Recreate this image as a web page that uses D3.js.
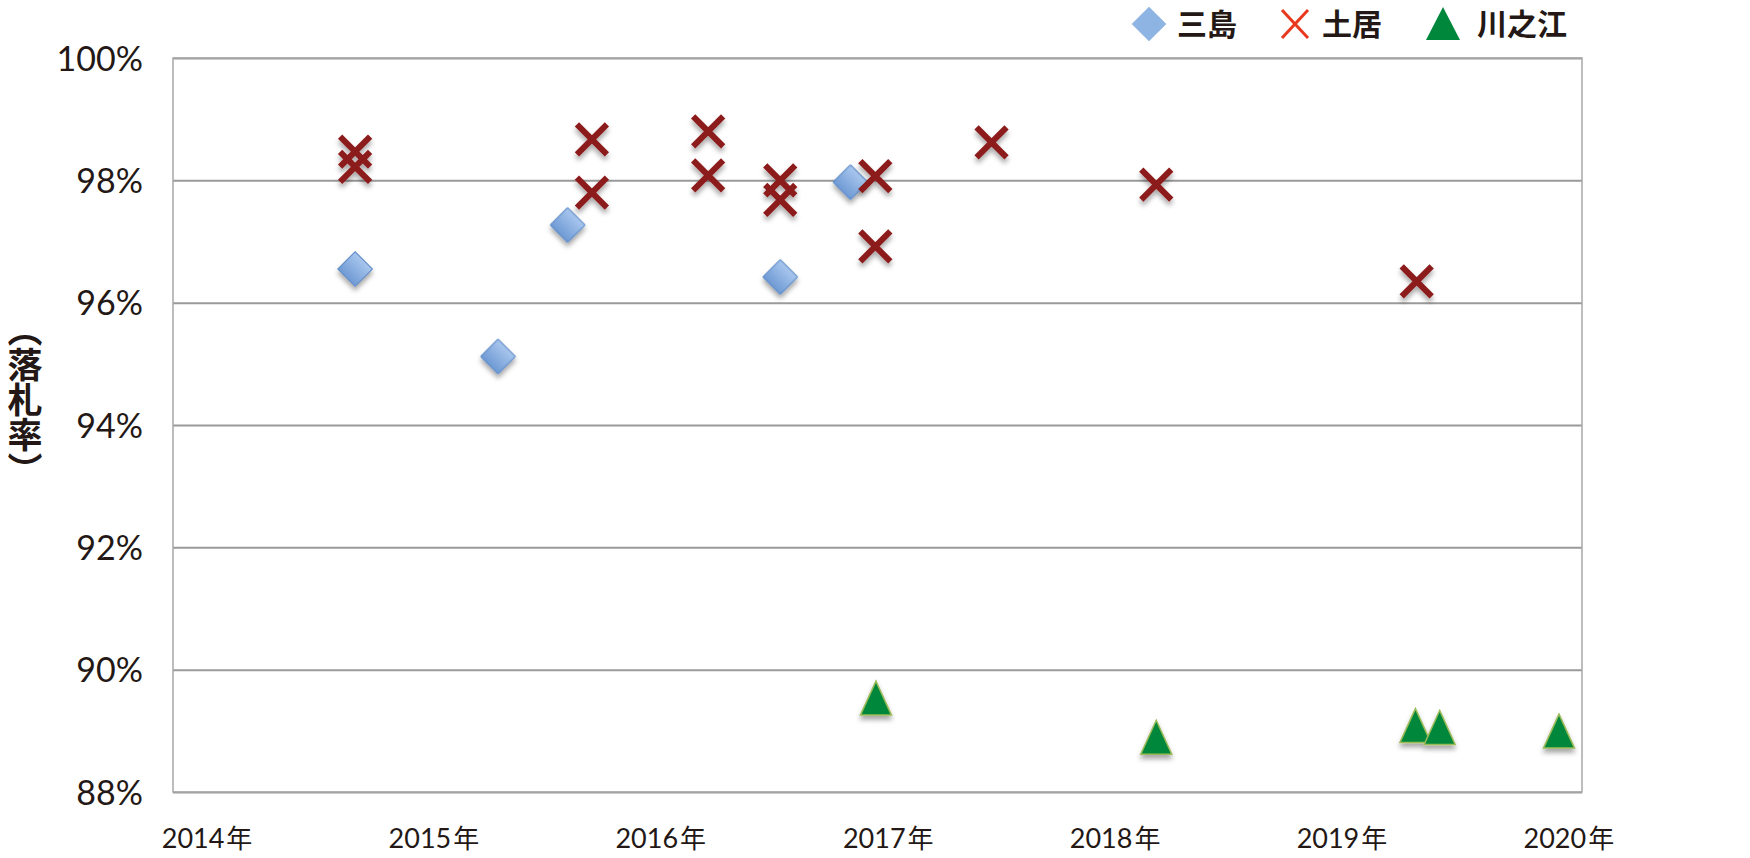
<!DOCTYPE html>
<html><head><meta charset="utf-8">
<script src="https://cdn.jsdelivr.net/npm/d3@7"></script>
<style>
html,body{margin:0;padding:0;background:#fff;}
svg{display:block;}
</style></head>
<body>
<svg id="chart" width="1750" height="858"></svg>
<script>
// ---- data ----
const seriesNames = ["三島", "土居", "川之江"];
const mishimaDates  = ["2014-08-28","2015-04-15","2015-08-05","2016-07-12","2016-11-02"];
const mishimaValues = [96.55, 95.12, 97.27, 96.42, 97.97];
const doiDates  = ["2014-08-28","2014-08-28","2015-09-13","2015-09-13","2016-03-18","2016-03-18","2016-07-12","2016-07-12","2016-12-12","2016-12-12","2017-06-17","2018-03-09","2019-05-02"];
const doiValues = [98.47, 98.22, 98.67, 97.80, 98.80, 98.08, 98.00, 97.68, 98.07, 96.92, 98.62, 97.93, 96.35];
const kawanoeDates  = ["2016-12-13","2018-03-09","2019-04-30","2019-06-08","2019-12-17"];
const kawanoeValues = [89.48, 88.84, 89.03, 89.00, 88.94];
const yTicks = [88, 90, 92, 94, 96, 98, 100];
const xTickYears = [2014, 2015, 2016, 2017, 2018, 2019, 2020];
const yTitle = "（落札率）";

// ---- layout ----
const svg = d3.select("#chart");
const L = 173, R = 1582, T = 58, B = 792;
const parse = d3.timeParse("%Y-%m-%d");

const x = d3.scaleTime()
  .domain([new Date(2013, 10, 8), new Date(2020, 0, 23)])
  .range([L, R]);
const y = d3.scaleLinear().domain([88, 100]).range([B, T]);

const defs = svg.append("defs");
const f = defs.append("filter").attr("id","sh").attr("x","-50%").attr("y","-50%").attr("width","200%").attr("height","220%");
f.append("feDropShadow").attr("dx",0).attr("dy",4).attr("stdDeviation",2.5).attr("flood-color","#000").attr("flood-opacity",0.35);
const g1 = defs.append("linearGradient").attr("id","dg").attr("x1",0).attr("y1",0).attr("x2",0).attr("y2",1);
g1.append("stop").attr("offset","0%").attr("stop-color","#a9c7ee");
g1.append("stop").attr("offset","100%").attr("stop-color","#6f9ad4");

// gridlines
const yAxis = d3.axisLeft(y).tickValues(yTicks).tickSize(-(R-L)).tickFormat(d => d + "%").tickPadding(30);
const ya = svg.append("g").attr("transform", `translate(${L},0)`).call(yAxis);
ya.select(".domain").remove();
ya.selectAll(".tick line").attr("stroke", "#9a9a9a").attr("stroke-width", 2);
ya.selectAll(".tick text").attr("fill","#231815").attr("font-family","Lato, 'Noto Sans', sans-serif")
  .attr("font-size", 34).attr("dy","0.36em");

// plot border
svg.append("rect").attr("x", L).attr("y", T).attr("width", R-L).attr("height", B-T)
  .attr("fill","none").attr("stroke","#a8a8a8").attr("stroke-width",1.5);

// x axis labels
const xAxis = d3.axisBottom(x).tickValues(xTickYears.map(yr => new Date(yr, 0, 1)))
  .tickSize(0).tickPadding(0).tickFormat(d => d.getFullYear());
const xa = svg.append("g").attr("transform", `translate(0,${B})`).call(xAxis);
xa.select(".domain").remove();
xa.selectAll(".tick text").text(null).attr("y", 56).attr("dy", 0)
  .attr("fill","#231815").attr("font-family","Lato, 'Noto Sans CJK JP', sans-serif").attr("font-size", 27)
  .each(function(d){
    const t = d3.select(this);
    t.append("tspan").text(d.getFullYear());
    t.append("tspan").attr("font-family","'Noto Sans CJK JP', sans-serif").attr("font-size",26).attr("dx",2).text("年");
  });

// y title (vertical)
svg.append("text").attr("x", 25).attr("y", 400)
  .attr("text-anchor","middle")
  .style("writing-mode","vertical-rl")
  .attr("font-family","'Noto Sans CJK JP', sans-serif").attr("font-weight","bold")
  .attr("font-size", 35).attr("fill","#231815")
  .text(yTitle);

// markers
const diamond = d3.symbol().type(d3.symbolSquare).size(600);
const mData = mishimaDates.map((d,i) => ({x: parse(d), v: mishimaValues[i]}));
const dData = doiDates.map((d,i) => ({x: parse(d), v: doiValues[i]}));
const kData = kawanoeDates.map((d,i) => ({x: parse(d), v: kawanoeValues[i]}));

const xs = 15;
const xPath = `M${-xs},${-xs}L${xs},${xs}M${xs},${-xs}L${-xs},${xs}`;
const triPath = (w, h) => `M0,${-h*0.6}L${w/2},${h*0.4}L${-w/2},${h*0.4}Z`;

svg.append("g").attr("filter","url(#sh)").selectAll("path").data(mData).join("path")
  .attr("d", diamond)
  .attr("transform", d => `translate(${x(d.x)},${y(d.v)}) rotate(45)`)
  .attr("fill","url(#dg)").attr("stroke","#5a88c6").attr("stroke-width",1);

svg.append("g").attr("filter","url(#sh)").selectAll("path").data(dData).join("path")
  .attr("d", xPath)
  .attr("transform", d => `translate(${x(d.x)},${y(d.v)})`)
  .attr("fill","none").attr("stroke","#8c1a1a").attr("stroke-width",6);

svg.append("g").attr("filter","url(#sh)").selectAll("path").data(kData).join("path")
  .attr("d", triPath(31, 34))
  .attr("transform", d => `translate(${x(d.x)},${y(d.v)})`)
  .attr("fill","#00873a").attr("stroke","#9bbb59").attr("stroke-width",1.5);

// legend
const lg = svg.append("g");
const legendItems = [
  {name: seriesNames[0], mx: 1149, tx: 1177},
  {name: seriesNames[1], mx: 1295, tx: 1322},
  {name: seriesNames[2], mx: 1443, tx: 1477}
];
const ly = 24;
lg.append("path").attr("d", d3.symbol().type(d3.symbolSquare).size(600)())
  .attr("transform", `translate(${legendItems[0].mx},${ly}) rotate(45)`).attr("fill","#8db4e2");
lg.append("path").attr("d", "M-13,-14L13,14M13,-14L-13,14")
  .attr("transform", `translate(${legendItems[1].mx},${ly})`).attr("stroke","#e8381e").attr("stroke-width",3).attr("fill","none");
lg.append("path").attr("d", "M0,-17L17,16L-17,16Z")
  .attr("transform", `translate(${legendItems[2].mx},${ly})`).attr("fill","#00873c");
lg.selectAll("text").data(legendItems).join("text")
  .attr("x", d => d.tx).attr("y", ly).attr("dy","0.36em")
  .attr("font-family","'Noto Sans CJK JP', sans-serif").attr("font-weight","bold")
  .attr("font-size", 30).attr("fill","#231815")
  .text(d => d.name);
</script>
</body></html>
